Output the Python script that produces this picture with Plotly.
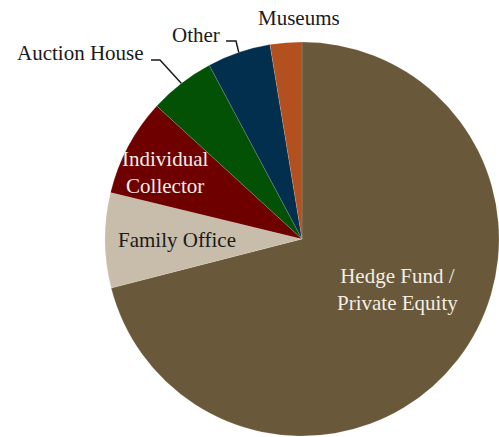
import math
import plotly.graph_objects as go

labels = ["Hedge Fund / Private Equity", "Family Office", "Individual Collector",
          "Auction House", "Other", "Museums"]
values = [71.0, 7.8, 8.0, 5.4, 5.2, 2.6]
colors = ["#695839", "#C8BCAA", "#6E0000", "#035104", "#032F4E", "#B3501F"]

W, H = 499, 437
cx, cy, r = 302, 239, 197


def px(x, y):
    return x / W, 1 - y / H


def edge(i):
    # mid-angle of slice i on the rim, clockwise from 12 o'clock
    tot = sum(values)
    start = sum(values[:i]) / tot * 360
    mid = math.radians(start + values[i] / tot * 180)
    return cx + r * math.sin(mid), cy - r * math.cos(mid)


fig = go.Figure(go.Pie(
    labels=labels, values=values, sort=False, direction="clockwise", rotation=0,
    marker=dict(colors=colors, line=dict(color="rgba(255,255,255,0.25)", width=0.5)),
    textinfo="none", hoverinfo="label+percent", showlegend=False,
    domain=dict(x=[(cx - r) / W, 1.0], y=[(H - cy - r) / H, (H - cy + r) / H]),
))

font = "Liberation Serif"
notes = [
    ("Hedge Fund /<br>Private Equity", 397, 289, "#F2EEE6"),
    ("Family Office", 177, 240, "#1a1a1a"),
    ("Individual<br>Collector", 165, 173, "#F2EEE6"),
    ("Auction House", 80, 53, "#1a1a1a"),
    ("Other", 196, 35, "#1a1a1a"),
    ("Museums", 299, 18, "#1a1a1a"),
]
for text, x, y, c in notes:
    ax, ay = px(x, y)
    fig.add_annotation(text=text, x=ax, y=ay, xref="paper", yref="paper",
                       showarrow=False, font=dict(family=font, size=21, color=c),
                       xanchor="center", yanchor="middle")

# leader lines
for i, (x0, x1, y0) in {3: (151, 160, 60), 4: (226, 236, 41)}.items():
    ex, ey = edge(i)
    pts = [px(x0, y0), px(x1, y0), px(ex, ey)]
    path = "M " + " L ".join(f"{a},{b}" for a, b in pts)
    fig.add_shape(type="path", path=path, xref="paper", yref="paper",
                  line=dict(color="#1a1a1a", width=1.5))

fig.update_layout(width=W, height=H, margin=dict(l=0, r=0, t=0, b=0),
                  paper_bgcolor="white", plot_bgcolor="white",
                  font=dict(family=font))

fig.write_html("out.html", config={"displayModeBar": False},
               post_script="document.body.style.margin='0px';")
